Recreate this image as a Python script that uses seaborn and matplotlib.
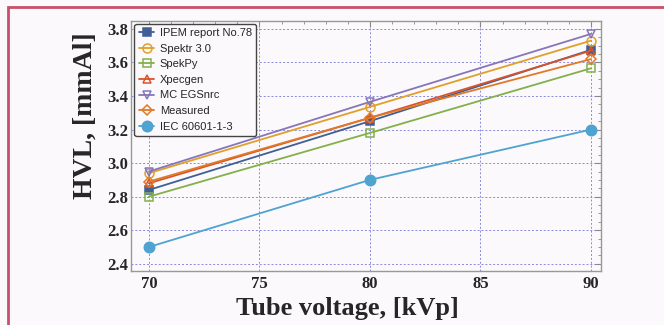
import matplotlib
matplotlib.use("Agg")
import matplotlib.pyplot as plt
import seaborn as sns
import pandas as pd
from matplotlib.ticker import MultipleLocator
from matplotlib.patches import Rectangle

kvp = [70, 80, 90]
ipem = [2.84, 3.25, 3.675]
spektr = [2.94, 3.335, 3.73]
spekpy = [2.80, 3.18, 3.565]
xpecgen = [2.88, 3.27, 3.67]
mc_egsnrc = [2.95, 3.365, 3.77]
measured = [2.89, 3.27, 3.62]
iec = [2.50, 2.90, 3.20]

series = ["IPEM report No.78", "Spektr 3.0", "SpekPy", "Xpecgen", "MC EGSnrc", "Measured", "IEC 60601-1-3"]
values = [ipem, spektr, spekpy, xpecgen, mc_egsnrc, measured, iec]
colors = ["#3f5f95", "#e0a02a", "#84b04a", "#d9532a", "#8676b8", "#e07a28", "#4ea3d0"]
markers = ["s", "o", "s", "^", "v", "D", "o"]
filled = [True, False, False, False, False, False, True]
msizes = [5.5, 6.5, 5.5, 5.5, 5.5, 5, 7.5]

rows = []
for name, vals in zip(series, values):
    for k, v in zip(kvp, vals):
        rows.append({"kVp": k, "HVL": v, "series": name})
df = pd.DataFrame(rows)

sns.set_style("white")
plt.rcParams["font.family"] = ["DejaVu Sans"]

fig = plt.figure(figsize=(6.64, 3.25), dpi=100)
fig.patch.set_facecolor("#fbf9fb")
fig.patches.append(Rectangle((8/664, -0.1), 1.2, 1 - 7/325 + 0.1, transform=fig.transFigure,
                             fill=False, edgecolor="#c8506a", linewidth=2.0))
ax = fig.add_axes([131/664, 1 - 270.5/325, (600.5-131)/664, (270.5-20.5)/325])
ax.set_facecolor("#fbf9fb")

for name, c, m, f, ms in zip(series, colors, markers, filled, msizes):
    sub = df[df["series"] == name]
    sns.lineplot(data=sub, x="kVp", y="HVL", ax=ax, color=c, linewidth=1.3,
                 marker=m, markersize=ms,
                 markerfacecolor=(c if f else "none"), markeredgecolor=c,
                 markeredgewidth=1.1, label=name)

ax.set_xlim(69.19, 90.43)
ax.set_ylim(2.36, 3.85)
ax.set_xticks([70, 75, 80, 85, 90])
ax.set_yticks([2.4, 2.6, 2.8, 3.0, 3.2, 3.4, 3.6, 3.8])
ax.set_yticklabels(["2.4", "2.6", "2.8", "3.0", "3.2", "3.4", "3.6", "3.8"],
                   fontfamily="Liberation Serif", fontweight="bold", fontsize=12)
ax.set_xticklabels(["70", "75", "80", "85", "90"],
                   fontfamily="Liberation Serif", fontweight="bold", fontsize=12)
ax.xaxis.set_minor_locator(MultipleLocator(1))
ax.yaxis.set_minor_locator(MultipleLocator(0.05))
ax.tick_params(which="both", direction="in", top=True, right=True, color="#888888")
ax.tick_params(which="major", length=4)
ax.tick_params(which="minor", length=2)
ax.tick_params(axis="x", pad=4)
ax.tick_params(axis="y", pad=2)
ax.grid(True, which="major", color="#8a8ad8", linestyle=(0, (2, 2)), linewidth=0.7)
for s in ax.spines.values():
    s.set_color("#999999")
    s.set_linewidth(1.0)

ax.set_xlabel("Tube voltage, [kVp]", fontfamily="Liberation Serif", fontweight="bold", fontsize=19)
ax.set_ylabel("HVL, [mmAl]", fontfamily="Liberation Serif", fontweight="bold", fontsize=20)
ax.xaxis.set_label_coords(0.46, -0.105)
ax.yaxis.set_label_coords(-0.072, 0.62)

leg = ax.legend(loc="upper left", frameon=True, fancybox=True,
                borderaxespad=0.3, labelspacing=0.5, handlelength=1.4, handletextpad=0.5,
                borderpad=0.4, prop={"family": "Liberation Sans", "size": 8})
leg.get_frame().set_edgecolor("#444444")
leg.get_frame().set_facecolor("#fbf9fb")
leg.get_frame().set_alpha(1)

fig.savefig("out.png", dpi=100, facecolor=fig.get_facecolor())
